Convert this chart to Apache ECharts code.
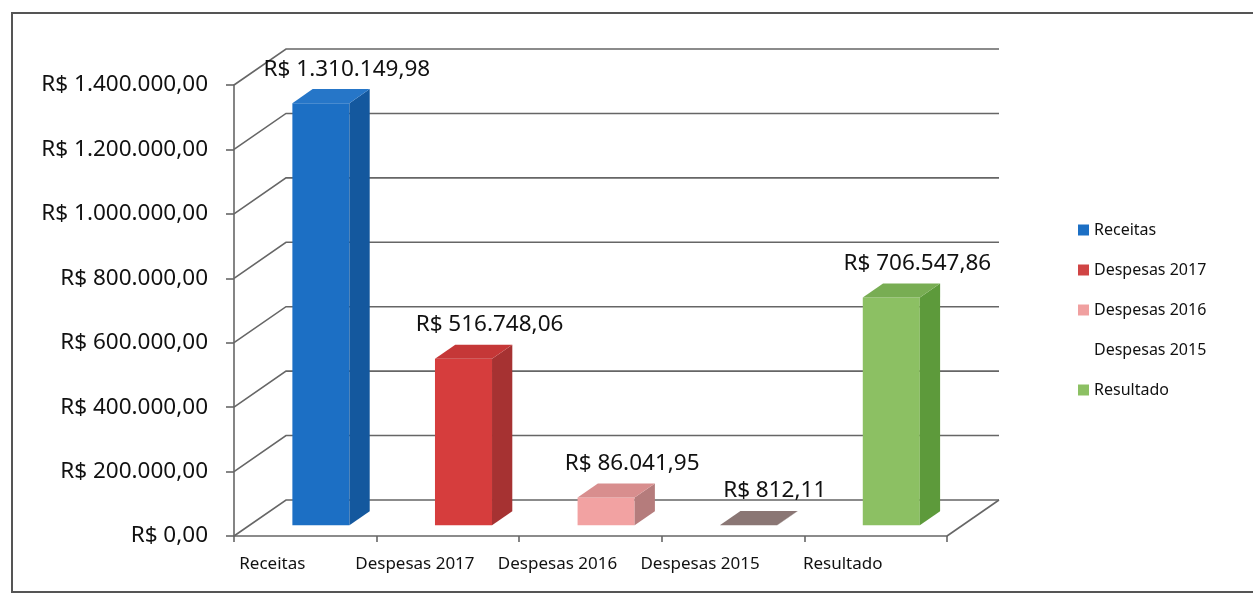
<!DOCTYPE html>
<html>
<head>
<meta charset="utf-8">
<script src="https://cdn.jsdelivr.net/npm/echarts@6/dist/echarts.min.js"></script>
<style>
  html, body { margin: 0; padding: 0; background: #fff; }
  #chart { width: 1253px; height: 594px; }
</style>
</head>
<body>
<div id="chart"></div>
<script>
const categories = ['Receitas', 'Despesas 2017', 'Despesas 2016', 'Despesas 2015', 'Resultado'];
const values = [1310149.98, 516748.06, 86041.95, 812.11, 706547.86];
const yTicks = [0, 200000, 400000, 600000, 800000, 1000000, 1200000, 1400000];

const frontColors = ['#1c6fc4', '#d63d3d', '#f2a2a2', '#8c7876', '#8cc063'];
const sideColors = ['#14589e', '#a63232', '#b57c7c', '#6f5e5c', '#5d9a3b'];
const topColors = ['#2676c8', '#c53737', '#d88e8e', '#8a7674', '#78ad53'];
const legendColors = ['#1c6fc4', '#d04545', '#f0a0a0', 'rgba(0,0,0,0)', '#8cc063'];

// 3D depth of the walls, and where the bars sit inside that depth
const WALL_DX = 52, WALL_DY = -36;
const BAR_F = 0.3, BAR_B = 0.69;
const FONT = '"Noto Sans", "Open Sans", sans-serif';

function fmtBRL(v) {
  const parts = v.toFixed(2).split('.');
  const intPart = parts[0].replace(/\B(?=(\d{3})+(?!\d))/g, '.');
  return 'R$ ' + intPart + ',' + parts[1];
}

const chart = echarts.init(document.getElementById('chart'));

function renderWall(params, api) {
  const v = api.value(1);
  const bandW = api.size([1, 0])[0];
  const p0 = api.coord([0, v]);
  const p1 = api.coord([categories.length - 1, v]);
  const left = p0[0] - bandW / 2;
  const right = p1[0] + bandW / 2;
  const y = p0[1];
  const style = { stroke: '#666', lineWidth: 1.6, fill: null };
  const children = [{
    type: 'polyline',
    shape: { points: [[left, y], [left + WALL_DX, y + WALL_DY], [right + WALL_DX, y + WALL_DY]] },
    style: style
  }];
  if (v === 0) {
    children.push({
      type: 'polyline',
      shape: { points: [[right, y], [right + WALL_DX, y + WALL_DY]] },
      style: style
    });
  }
  return { type: 'group', children: children };
}

function makeBarRenderer(idx) {
  return function (params, api) {
    const i = api.value(0);
    const v = api.value(1);
    const bandW = api.size([1, 0])[0];
    const pTop = api.coord([i, v]);
    const pBot = api.coord([i, 0]);
    const w = bandW * 0.4;
    const fx = WALL_DX * BAR_F, fy = WALL_DY * BAR_F;
    const sx = WALL_DX * (BAR_B - BAR_F), sy = WALL_DY * (BAR_B - BAR_F);
    const cx = pTop[0] + fx;
    const top = pTop[1] + fy;
    const bot = pBot[1] + fy;
    const l = cx - w / 2, r = cx + w / 2;
    return {
      type: 'group',
      children: [
        { type: 'polygon', shape: { points: [[l, top], [r, top], [r, bot], [l, bot]] },
          style: { fill: frontColors[idx] } },
        { type: 'polygon', shape: { points: [[r, top], [r + sx, top + sy], [r + sx, bot + sy], [r, bot]] },
          style: { fill: sideColors[idx] } },
        { type: 'polygon', shape: { points: [[l, top], [r, top], [r + sx, top + sy], [l + sx, top + sy]] },
          style: { fill: topColors[idx] } },
        { type: 'text',
          style: { x: cx + 26, y: top + sy - 20, text: fmtBRL(v), fill: '#111',
                   font: '22.5px ' + FONT, align: 'center', verticalAlign: 'middle' } }
      ]
    };
  };
}

const barSeries = categories.map((name, idx) => ({
  name: name,
  type: 'custom',
  z: 3,
  itemStyle: { color: frontColors[idx] },
  encode: { x: 0, y: 1 },
  data: [[idx, values[idx]]],
  renderItem: makeBarRenderer(idx)
}));

chart.setOption({
  animation: false,
  grid: { left: 234, right: 306, top: 85, bottom: 58 },
  legend: {
    orient: 'vertical',
    left: 1073,
    top: 217,
    itemWidth: 11,
    itemHeight: 11,
    itemGap: 24,
    icon: 'rect',
    textStyle: { fontFamily: FONT, fontSize: 16, color: '#111' },
    data: categories.map((name, idx) => ({ name: name, itemStyle: { color: legendColors[idx] } }))
  },
  xAxis: {
    type: 'category',
    data: categories,
    axisLine: { lineStyle: { color: '#666', width: 1.6 } },
    axisTick: { show: true, length: 6, lineStyle: { color: '#666', width: 1.6 } },
    axisLabel: { interval: 0, hideOverlap: false, color: '#111', fontFamily: FONT, fontSize: 17,
                 margin: 20, padding: [0, 66, 0, 0] }
  },
  yAxis: {
    type: 'value',
    min: 0,
    max: 1400000,
    interval: 200000,
    axisLine: { show: true, lineStyle: { color: '#666', width: 1.6 } },
    axisTick: { show: true, length: 8, lineStyle: { color: '#666', width: 1.6 } },
    splitLine: { show: false },
    axisLabel: { color: '#111', fontFamily: FONT, fontSize: 22.5, margin: 26, formatter: fmtBRL }
  },
  graphic: [{
    type: 'rect',
    shape: { x: 12, y: 13, width: 1250, height: 579 },
    style: { fill: null, stroke: '#555', lineWidth: 2 },
    silent: true
  }],
  series: [{
    type: 'custom',
    name: 'walls',
    z: 1,
    silent: true,
    encode: { x: 0, y: 1 },
    data: yTicks.map(v => [0, v]),
    renderItem: renderWall
  }].concat(barSeries)
});
</script>
</body>
</html>
